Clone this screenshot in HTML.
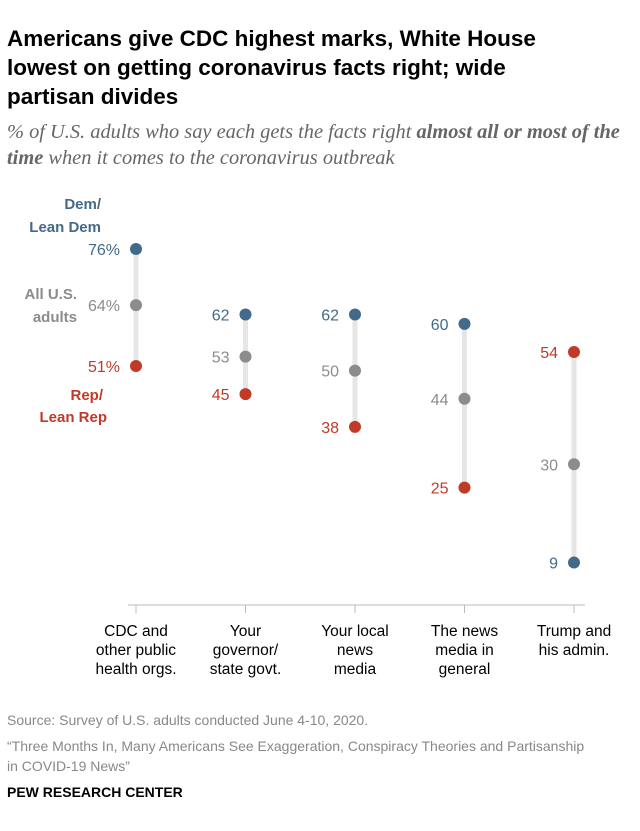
<!DOCTYPE html>
<html><head><meta charset="utf-8"><style>
body{margin:0;background:#fff;font-family:"Liberation Sans",sans-serif;}
#wrap{position:relative;width:640px;height:831px;overflow:hidden}
.t{position:absolute;left:7px;top:24px;font-size:22.5px;font-weight:bold;line-height:29px;color:#000;width:575px}
.s{position:absolute;left:7px;top:119px;font-family:"Liberation Serif",serif;font-style:italic;font-size:20.4px;line-height:26px;color:#666;width:640px;white-space:nowrap}
.f{position:absolute;left:7px;font-size:14px;color:#888}
</style></head><body><div id="wrap">
<div class="t">Americans give CDC highest marks, White House lowest on getting coronavirus facts right; wide partisan divides</div>
<div class="s">% of U.S. adults who say each gets the facts right <b>almost all or most of the<br>time</b> when it comes to the coronavirus outbreak</div>
<svg id="c" width="640" height="700" style="position:absolute;left:0;top:0"></svg>
<div class="f" style="top:712px">Source: Survey of U.S. adults conducted June 4-10, 2020.</div>
<div class="f" style="top:736px;line-height:20px">“Three Months In, Many Americans See Exaggeration, Conspiracy Theories and Partisanship<br>in COVID-19 News”</div>
<div class="f" style="top:784px;font-weight:bold;color:#000;font-size:14px">PEW RESEARCH CENTER</div>
</div>
<script>
const categories=[["CDC and","other public","health orgs."],["Your","governor/","state govt."],["Your local","news","media"],["The news","media in","general"],["Trump and","his admin."]];
const dem=[76,62,62,60,9];
const all=[64,53,50,44,30];
const rep=[51,45,38,25,54];
const NS="http://www.w3.org/2000/svg";
const svg=document.getElementById('c');
const xs=i=>136+i*109.5;
const ys=v=>249+(76-v)*4.68;
const BLUE="#436a8a",GRAY="#8c8c8c",RED="#c13a28";
function mk(tag,a){const e=document.createElementNS(NS,tag);for(const k in a)e.setAttribute(k,a[k]);svg.appendChild(e);return e;}
function txt(x,y,s,col,anchor,w,size){const e=mk('text',{x:x,y:y,fill:col,'text-anchor':anchor,'font-size':size||16,'font-weight':w||'normal','font-family':'Liberation Sans, sans-serif'});e.textContent=s;return e;}
const ax=mk('line',{x1:128,x2:585,y1:605,y2:605,stroke:'#bbb','stroke-width':1});


categories.forEach((c,i)=>{
 const x=xs(i);
 const tk=mk('line',{x1:x,x2:x,y1:605,y2:613,stroke:'#bbb'});
 
 
 c.forEach((l,j)=>{const t=txt(x,636+j*19,l,'#000','middle','normal',15.5);
 
 });
 const vals=[dem[i],all[i],rep[i]];
 const mn=Math.min(...vals),mx=Math.max(...vals);
 const ln=mk('line',{x1:x,x2:x,y1:ys(mx),y2:ys(mn),stroke:'#e6e6e6','stroke-width':5});
 
 
 [[dem[i],BLUE,'dem'],[all[i],GRAY,'all'],[rep[i],RED,'rep']].forEach(([v,col,n])=>{
  const d=mk('circle',{cx:x,cy:ys(v),r:6,fill:col});
  
  
  const t=txt(x-16,ys(v)+6,v+(i===0?'%':''),col,'end','normal',16);
  
  
 });
});
function lab(x,y,s,col,n){const t=txt(x,y,s,col,'end','bold',15);}
lab(101,209,'Dem/',BLUE,'dem-legend');lab(101,232,'Lean Dem',BLUE,'dem-legend');
lab(77,299,'All U.S.',GRAY,'all-legend');lab(77,322,'adults',GRAY,'all-legend');
lab(103,400,'Rep/',RED,'rep-legend');lab(107,422,'Lean Rep',RED,'rep-legend');
</script></body></html>
